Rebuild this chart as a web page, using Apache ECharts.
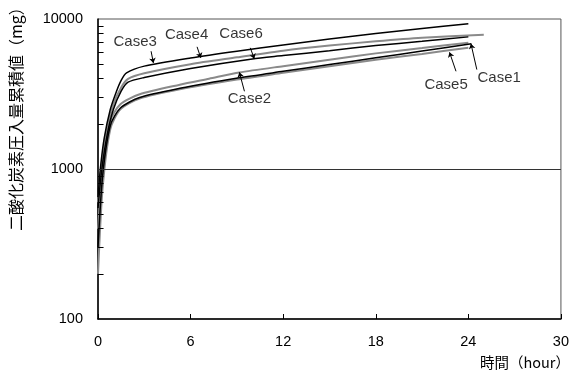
<!DOCTYPE html>
<html>
<head>
<meta charset="utf-8">
<script src="https://cdn.jsdelivr.net/npm/echarts@6/dist/echarts.min.js"></script>
<style>
  html, body { margin: 0; padding: 0; background: #fff; }
  #chart { width: 572px; height: 376px; }
</style>
</head>
<body>
<div id="chart"></div>
<script>
// Cumulative CO2 injection (mg) against elapsed time (hour), six cases
const xTicks = [0, 6, 12, 18, 24, 30];
const yLabelValues = [100, 1000, 10000];
const yTickValues = [200, 300, 400, 500, 600, 700, 800, 900,
                     2000, 3000, 4000, 5000, 6000, 7000, 8000, 9000];

const hours3 = [0, 0.15, 0.4, 0.8, 1.2, 1.5, 1.85, 3, 6, 9, 12, 15, 18, 21, 24];
const case3  = [650, 1000, 1600, 2500, 3300, 3900, 4375, 4850, 5500, 6100, 6700, 7350, 8000, 8650, 9300];

const hours4 = [0, 0.2, 0.5, 1.0, 1.5, 1.95, 3, 6, 9, 12, 15, 18, 21, 25];
const case4  = [600, 1000, 1700, 2700, 3500, 3990, 4350, 5000, 5550, 6150, 6650, 7100, 7500, 7850];

const hours6 = [0, 0.25, 0.6, 1.0, 1.5, 1.95, 3, 6, 10, 12, 15, 18, 21, 24];
const case6  = [550, 1000, 1700, 2500, 3300, 3790, 4070, 4680, 5420, 5700, 6150, 6650, 7100, 7600];

const hours2 = [0, 0.3, 0.8, 1.45, 2.7, 5.3, 7.2, 9.16, 12, 15, 18, 21, 24];
const case2  = [400, 1000, 2100, 2700, 3150, 3650, 4000, 4400, 4850, 5350, 5900, 6400, 6950];

const hours1 = [0, 0.3, 0.8, 1.45, 2.7, 5.3, 9.16, 12, 15, 18, 21, 24.2];
const case1  = [300, 900, 1950, 2550, 3000, 3450, 4055, 4480, 4970, 5510, 6110, 6830];

const hours5 = [0, 0.3, 0.8, 1.45, 2.7, 5.3, 9, 12, 15, 18, 21, 24];
const case5  = [200, 750, 1850, 2500, 2950, 3400, 3950, 4380, 4850, 5350, 5850, 6430];

// call-out labels: text anchor, leader start, leader end (hour, mg)
const noteNames  = ['Case3', 'Case4', 'Case6', 'Case2', 'Case5', 'Case1'];
const noteTextAt = [[2.41, 7045], [5.74, 7880], [9.27, 8005], [9.81, 2931], [22.56, 3652], [26.0, 4046]];
const noteFrom   = [[3.44, 6096], [6.42, 6523], [9.87, 6424], [9.49, 3297], [23.2, 4481], [24.55, 4600]];
const noteTo     = [[3.59, 5095], [6.66, 5508], [10.13, 5424], [9.16, 4413], [22.78, 5998], [24.17, 6830]];

const FONT = "'Liberation Sans', 'Noto Sans CJK JP', sans-serif";
const pairs = (xs, ys) => xs.map((x, i) => [x, ys[i]]);

// inward tick length on the value axis, in hours along x
const TICK_LEN = 0.36;

const curves = [
  { name: 'Case5', x: hours5, y: case5, color: '#8a8a8a', width: 2 },
  { name: 'Case2', x: hours2, y: case2, color: '#8a8a8a', width: 2 },
  { name: 'Case1', x: hours1, y: case1, color: '#000000', width: 1.5 },
  { name: 'Case4', x: hours4, y: case4, color: '#8a8a8a', width: 2 },
  { name: 'Case6', x: hours6, y: case6, color: '#000000', width: 1.5 },
  { name: 'Case3', x: hours3, y: case3, color: '#000000', width: 1.5 }
];

const series = curves.map(c => ({
  name: c.name,
  type: 'line',
  data: pairs(c.x, c.y),
  showSymbol: false,
  smooth: 0.25,
  lineStyle: { color: c.color, width: c.width },
  z: 3
}));

// reference line at 1000 mg, plus the decade subdivision ticks
series[0].markLine = {
  silent: true,
  symbol: 'none',
  label: { show: false },
  lineStyle: { color: '#333', width: 1, type: 'solid' },
  data: [{ yAxis: 1000 }].concat(
    yTickValues.map(v => [
      { coord: [xTicks[0], v], lineStyle: { color: '#000', width: 1 } },
      { coord: [xTicks[0] + TICK_LEN, v] }
    ])
  )
};

series.push({
  type: 'lines',
  coordinateSystem: 'cartesian2d',
  polyline: false,
  symbol: ['none', 'arrow'],
  symbolSize: 5,
  lineStyle: { color: '#000', width: 1, opacity: 1 },
  data: noteFrom.map((f, i) => ({ coords: [f, noteTo[i]] })),
  z: 5
});

series.push({
  type: 'scatter',
  symbolSize: 0,
  data: noteTextAt.map((p, i) => ({ value: p, name: noteNames[i] })),
  label: {
    show: true,
    position: 'inside',
    formatter: p => p.name,
    color: '#000',
    fontSize: 15,
    fontFamily: FONT
  },
  z: 6
});

const chart = echarts.init(document.getElementById('chart'), null, { renderer: 'canvas' });
chart.setOption({
  animation: false,
  backgroundColor: '#fff',
  grid: {
    left: 98, right: 8, top: 19, bottom: 57,
    show: true, borderColor: '#555', borderWidth: 1, backgroundColor: 'transparent'
  },
  xAxis: {
    type: 'value',
    min: xTicks[0], max: xTicks[xTicks.length - 1], interval: 6,
    axisLine: { lineStyle: { color: '#000', width: 1.5 } },
    axisTick: { inside: true, length: 5, lineStyle: { color: '#000' } },
    axisLabel: { color: '#000', fontSize: 14.5, fontFamily: FONT, margin: 16 },
    splitLine: { show: false }
  },
  yAxis: {
    type: 'log',
    logBase: 10,
    min: yLabelValues[0], max: yLabelValues[yLabelValues.length - 1],
    axisLine: { show: true, lineStyle: { color: '#000', width: 1.5 } },
    axisTick: { show: false },
    axisLabel: { color: '#000', fontSize: 14.5, fontFamily: FONT, margin: 15, formatter: v => String(Math.round(v)) },
    splitLine: { show: false }
  },
  graphic: [
    {
      type: 'text',
      x: 16, y: 231,
      rotation: Math.PI / 2,
      style: {
        text: '二酸化炭素圧入量累積値（mg）',
        fill: '#000',
        font: "16px 'Noto Sans CJK JP', sans-serif",
        textAlign: 'left',
        textVerticalAlign: 'middle'
      }
    },
    {
      type: 'text',
      x: 570, y: 362,
      style: {
        text: '時間（hour）',
        fill: '#000',
        font: "14.5px 'Noto Sans CJK JP', sans-serif",
        textAlign: 'right',
        textVerticalAlign: 'middle'
      }
    }
  ],
  series: series
});
</script>
</body>
</html>
